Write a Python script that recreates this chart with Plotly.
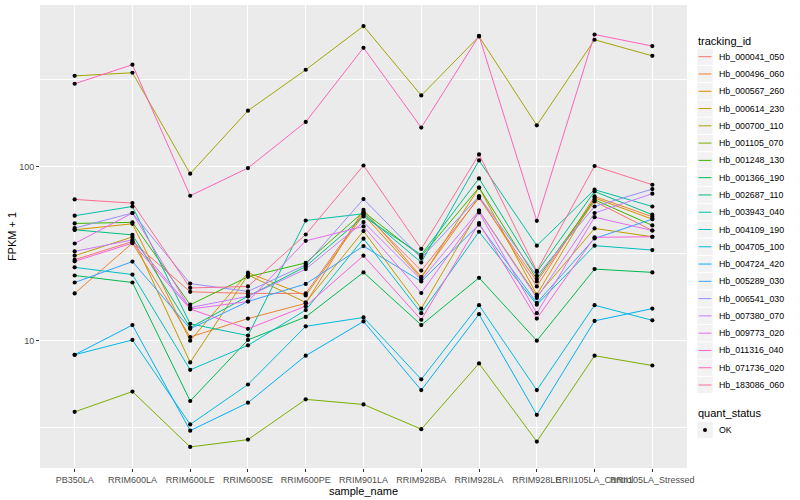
import numpy as np
import plotly.graph_objects as go

samples = ["PB350LA", "RRIM600LA", "RRIM600LE", "RRIM600SE", "RRIM600PE", "RRIM901LA",
           "RRIM928BA", "RRIM928LA", "RRIM928LE", "RRII105LA_Control", "RRII105LA_Stressed"]

tracking_ids = ["Hb_000041_050", "Hb_000496_060", "Hb_000567_260", "Hb_000614_230", "Hb_000700_110",
                "Hb_001105_070", "Hb_001248_130", "Hb_001366_190", "Hb_002687_110", "Hb_003943_040",
                "Hb_004109_190", "Hb_004705_100", "Hb_004724_420", "Hb_005289_030", "Hb_006541_030",
                "Hb_007380_070", "Hb_009773_020", "Hb_011316_040", "Hb_071736_020", "Hb_183086_060"]

colors = ["#F8766D", "#EA8331", "#D89000", "#C09B00", "#A3A500", "#7CAE00", "#39B600", "#00BB4E",
          "#00BF7D", "#00C1A3", "#00BFC4", "#00BAE0", "#00B0F6", "#35A2FF", "#9590FF", "#C77CFF",
          "#E76BF3", "#FA62DB", "#FF62BC", "#FF6C91"]

# FPKM + 1 per sample
Hb_000041_050 = [29.2, 37.2, 19.1, 18.7, 18.7, 54.4, 25.3, 66.1, 21.9, 63.2, 43.0]
Hb_000496_060 = [18.7, 36.4, 10.5, 13.4, 16.4, 56.6, 23.3, 67.5, 20.5, 67.5, 51.6]
Hb_000567_260 = [43.4, 47.0, 10.0, 24.6, 18.2, 53.0, 22.9, 75.9, 18.4, 66.1, 50.0]
Hb_000614_230 = [30.8, 39.5, 7.5, 23.9, 16.6, 42.7, 15.3, 55.9, 18.0, 44.2, 39.6]
Hb_000700_110 = [333, 347, 91.2, 210, 361, 644, 257, 561, 173, 537, 434]
Hb_001105_070 = [3.9, 5.1, 2.45, 2.7, 4.6, 4.3, 3.1, 7.4, 2.63, 8.2, 7.2]
Hb_001248_130 = [47.2, 47.9, 16.1, 23.3, 28.0, 55.1, 30.5, 76.0, 22.6, 64.6, 46.0]
Hb_001366_190 = [23.7, 21.6, 4.5, 10.1, 13.7, 24.7, 12.3, 23.0, 10.0, 25.8, 24.7]
Hb_002687_110 = [43.4, 40.6, 11.9, 18.0, 26.7, 51.8, 31.2, 85.7, 24.8, 72.1, 53.0]
Hb_003943_040 = [52.3, 59.1, 12.5, 10.7, 49.1, 53.7, 28.2, 108.7, 35.2, 73.8, 59.1]
Hb_004109_190 = [26.4, 24.0, 6.8, 9.4, 15.0, 38.6, 14.4, 42.3, 16.1, 35.2, 33.2]
Hb_004705_100 = [8.3, 10.1, 3.3, 5.6, 12.1, 13.6, 6.0, 16.0, 5.2, 16.0, 13.1]
Hb_004724_420 = [8.3, 12.3, 3.04, 4.4, 8.2, 12.9, 5.2, 14.2, 3.75, 13.0, 15.3]
Hb_005289_030 = [21.6, 28.5, 11.7, 16.8, 21.2, 35.0, 21.9, 46.4, 16.5, 38.7, 50.0]
Hb_006541_030 = [44.4, 54.2, 21.3, 19.2, 27.3, 65.2, 29.9, 67.5, 23.6, 59.1, 74.4]
Hb_007380_070 = [32.6, 38.0, 15.5, 18.0, 25.8, 48.1, 22.4, 55.9, 17.6, 54.2, 70.0]
Hb_009773_020 = [36.2, 54.2, 15.2, 16.8, 37.5, 45.4, 18.8, 54.6, 14.4, 51.3, 43.0]
Hb_011316_040 = [28.6, 36.4, 15.2, 11.7, 15.8, 30.8, 13.2, 47.5, 13.4, 39.3, 39.6]
Hb_071736_020 = [300, 386, 68.1, 98.3, 181, 483, 168, 566, 48.9, 576, 494]
Hb_183086_060 = [64.9, 61.8, 20.1, 20.5, 40.8, 101.7, 33.7, 117.7, 25.2, 101, 78.8]

quant_status = ["OK"]
y_breaks = [10, 100]
y_minor = [10 ** 0.5, 10 ** 1.5, 10 ** 2.5]

series = [Hb_000041_050, Hb_000496_060, Hb_000567_260, Hb_000614_230, Hb_000700_110,
          Hb_001105_070, Hb_001248_130, Hb_001366_190, Hb_002687_110, Hb_003943_040,
          Hb_004109_190, Hb_004705_100, Hb_004724_420, Hb_005289_030, Hb_006541_030,
          Hb_007380_070, Hb_009773_020, Hb_011316_040, Hb_071736_020, Hb_183086_060]

W, H = 800, 500
L, R, T, B = 40, 113, 5, 32
font_family = "Liberation Sans, Arial, sans-serif"


def px_x(px):
    return (px - L) / (W - L - R)


def px_y(py):
    return (H - B - py) / (H - T - B)


fig = go.Figure()
for name, col, vals in zip(tracking_ids, colors, series):
    fig.add_trace(go.Scatter(x=samples, y=vals, mode="lines", name=name,
                             line=dict(color=col, width=1), showlegend=False))

all_x = [s for vals in series for s in samples]
all_y = [v for vals in series for v in vals]
fig.add_trace(go.Scatter(x=all_x, y=all_y, mode="markers", name=quant_status[0],
                         marker=dict(color="black", size=4.2, symbol="circle"),
                         showlegend=False))

lo = np.log10(min(all_y))
hi = np.log10(max(all_y))
pad = 0.05 * (hi - lo)

# ---- legend drawn in ggplot style (key boxes + text) ----
shapes = []
annotations = []
key_l, key_r = 697.3, 712.7
step = 17.28
first = 56.7
annotations.append(dict(x=px_x(696), y=px_y(40.7), xref="paper", yref="paper", text="tracking_id",
                        showarrow=False, xanchor="left", yanchor="middle",
                        font=dict(size=11, color="black")))
for i, (name, col) in enumerate(zip(tracking_ids, colors)):
    cy = first + i * step
    shapes.append(dict(type="rect", xref="paper", yref="paper", x0=px_x(key_l), x1=px_x(key_r),
                       y0=px_y(cy - step / 2 + 0.5), y1=px_y(cy + step / 2 - 0.5),
                       fillcolor="#F2F2F2", line=dict(width=0), layer="below"))
    shapes.append(dict(type="line", xref="paper", yref="paper", x0=px_x(key_l + 1.2),
                       x1=px_x(key_r - 1.2), y0=px_y(cy), y1=px_y(cy),
                       line=dict(color=col, width=1)))
    annotations.append(dict(x=px_x(716.5), y=px_y(cy), xref="paper", yref="paper", text=name,
                            showarrow=False, xanchor="left", yanchor="middle",
                            font=dict(size=8.8, color="black")))

q_title = 413
annotations.append(dict(x=px_x(696), y=px_y(q_title), xref="paper", yref="paper", text="quant_status",
                        showarrow=False, xanchor="left", yanchor="middle",
                        font=dict(size=11, color="black")))
for j, q in enumerate(quant_status):
    cy = q_title + 17 + j * step
    shapes.append(dict(type="rect", xref="paper", yref="paper", x0=px_x(key_l), x1=px_x(key_r),
                       y0=px_y(cy - step / 2 + 0.5), y1=px_y(cy + step / 2 - 0.5),
                       fillcolor="#F2F2F2", line=dict(width=0), layer="below"))
    shapes.append(dict(type="circle", xref="paper", yref="paper",
                       x0=px_x((key_l + key_r) / 2 - 2), x1=px_x((key_l + key_r) / 2 + 2),
                       y0=px_y(cy - 2), y1=px_y(cy + 2), fillcolor="black", line=dict(width=0)))
    annotations.append(dict(x=px_x(716.5), y=px_y(cy), xref="paper", yref="paper", text=q,
                            showarrow=False, xanchor="left", yanchor="middle",
                            font=dict(size=8.8, color="black")))

fig.update_layout(
    width=W, height=H,
    margin=dict(l=L, r=R, t=T, b=B, autoexpand=False),
    paper_bgcolor="white", plot_bgcolor="#EBEBEB",
    font=dict(family=font_family, color="black"),
    showlegend=False,
    shapes=shapes, annotations=annotations,
    xaxis=dict(type="category", categoryorder="array", categoryarray=samples,
               range=[-0.6, len(samples) - 0.4], showgrid=True, gridcolor="white", gridwidth=1.1,
               zeroline=False, showline=False, ticks="outside", ticklen=3, tickcolor="#333333",
               tickwidth=1, tickangle=0, tickfont=dict(size=9, color="#4D4D4D"),
               title=dict(text="sample_name", font=dict(size=11), standoff=0), automargin=False),
    yaxis=dict(type="log", range=[lo - pad, hi + pad], tickvals=y_breaks,
               ticktext=[str(b) for b in y_breaks], showgrid=True, gridcolor="white", gridwidth=1.1,
               minor=dict(tickvals=y_minor, showgrid=True, gridcolor="white", gridwidth=0.5, ticks=""),
               zeroline=False, showline=False, ticks="outside", ticklen=3, tickcolor="#333333",
               tickwidth=1, tickfont=dict(size=9, color="#4D4D4D"),
               title=dict(text="FPKM + 1", font=dict(size=11), standoff=0), automargin=False),
)

fig.write_html("out.html", config={"displayModeBar": False},
               post_script="document.body.style.margin='0px';")
